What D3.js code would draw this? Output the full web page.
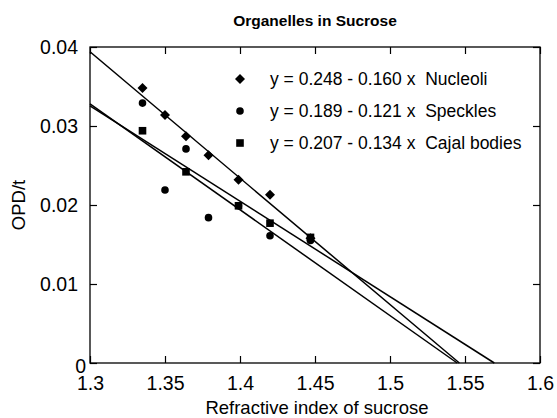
<!DOCTYPE html>
<html><head><meta charset="utf-8">
<script src="https://cdn.jsdelivr.net/npm/d3@7"></script>
<style>body{margin:0;background:#fff}text{font-family:"Liberation Sans",Arial,sans-serif;fill:#000}</style>
</head><body><svg id="c" width="557" height="418"></svg>
<script>
const xTicks = [1.3, 1.35, 1.4, 1.45, 1.5, 1.55, 1.6];
const yTicks = [0, 0.01, 0.02, 0.03, 0.04];
const seriesNames = ["Nucleoli", "Speckles", "Cajal bodies"];
const legendLabels = ["y = 0.248 - 0.160 x  Nucleoli", "y = 0.189 - 0.121 x  Speckles", "y = 0.207 - 0.134 x  Cajal bodies"];
const nucleoliX = [1.335, 1.35, 1.364, 1.379, 1.399, 1.42, 1.447];
const nucleoliY = [0.0348, 0.0314, 0.0287, 0.0263, 0.0232, 0.0213, 0.0158];
const specklesX = [1.335, 1.35, 1.364, 1.379, 1.399, 1.42, 1.447];
const specklesY = [0.0329, 0.0219, 0.0271, 0.0184, 0.0199, 0.0161, 0.0155];
const cajalX = [1.335, 1.364, 1.399, 1.42, 1.447];
const cajalY = [0.0294, 0.0242, 0.0199, 0.0177, 0.0159];
const fitIntercept = [0.2474, 0.1896, 0.2070];
const fitSlope = [0.160, 0.1208, 0.134];

const svg = d3.select("#c");
const L = 90, R = 540, T = 47, B = 363;
const x = d3.scaleLinear().domain([1.3, 1.6]).range([L, R]);
const y = d3.scaleLinear().domain([0, 0.04]).range([B, T]);

const fmtX = d3.format("");
const fmtY = v => v === 0 ? "0" : d3.format(".2f")(v);
const FF = "Liberation Sans, Arial, sans-serif";

// ticks
const tl = 7;
const styleAxis = g => { g.select(".domain").remove(); g.selectAll("line").attr("stroke","#000").attr("stroke-width",1.2); };
svg.append("g").attr("transform",`translate(0,${B})`)
  .call(d3.axisBottom(x).tickValues(xTicks).tickSize(-tl).tickPadding(13).tickFormat(fmtX))
  .call(styleAxis)
  .call(g=>g.selectAll("text").attr("font-size",19.5).attr("font-family",FF).attr("fill","#000"));
svg.append("g").attr("transform",`translate(0,${T})`)
  .call(d3.axisTop(x).tickValues(xTicks).tickSize(-tl).tickFormat(""))
  .call(styleAxis);
svg.append("g").attr("transform",`translate(${L},0)`)
  .call(d3.axisLeft(y).tickValues(yTicks).tickSize(-tl).tickPadding(12).tickFormat(fmtY))
  .call(styleAxis)
  .call(g=>g.selectAll("text").attr("font-size",19.5).attr("font-family",FF).attr("fill","#000")
     .attr("dy", d => d === 0 ? "0.5em" : "0.33em")
     .attr("x", d => d === 0 ? -4 : -12));
svg.append("g").attr("transform",`translate(${R},0)`)
  .call(d3.axisRight(y).tickValues(yTicks).tickSize(-tl).tickFormat(""))
  .call(styleAxis);

// frame
svg.append("rect").attr("x",L).attr("y",T).attr("width",R-L).attr("height",B-T)
  .attr("fill","none").attr("stroke","#000").attr("stroke-width",1.3);

// fit lines
fitIntercept.forEach((a,i)=>{
  const b = fitSlope[i];
  const x0 = 1.3, x1 = a/b;
  svg.append("line").attr("x1",x(x0)).attr("y1",y(a-b*x0)).attr("x2",x(x1)).attr("y2",y(a-b*x1))
    .attr("stroke","#000").attr("stroke-width",1.5);
});

// markers
function drawMarker(g, i, px, py){
  if (i===0){
    const s=5;
    g.append("path").attr("d",`M${px},${py-s}L${px+s},${py}L${px},${py+s}L${px-s},${py}Z`).attr("fill","#000");
  } else if (i===1){
    g.append("circle").attr("cx",px).attr("cy",py).attr("r",3.8).attr("fill","#000");
  } else {
    g.append("rect").attr("x",px-3.8).attr("y",py-3.8).attr("width",7.6).attr("height",7.6).attr("fill","#000");
  }
}
const mg = svg.append("g");
[[nucleoliX,nucleoliY],[specklesX,specklesY],[cajalX,cajalY]].forEach(([xs,ys],i)=>{
  xs.forEach((v,j)=>drawMarker(mg,i,x(v),y(ys[j])));
});

// legend
const legY = [79, 111, 143];
legendLabels.forEach((t,i)=>{
  drawMarker(svg,i,240,legY[i]);
  svg.append("text").attr("x",270).attr("y",legY[i]).attr("dy","0.36em").attr("font-size",17.5)
    .style("white-space","pre").text(t);
});

// titles
svg.append("text").attr("x",315).attr("y",26).attr("text-anchor","middle").attr("font-size",15.5).attr("font-weight","bold").text("Organelles in Sucrose");
svg.append("text").attr("x",317).attr("y",414).attr("text-anchor","middle").attr("font-size",18.5).text("Refractive index of sucrose");
svg.append("text").attr("transform","translate(25,205) rotate(-90)").attr("text-anchor","middle").attr("font-size",18.5).text("OPD/t");
</script></body></html>
